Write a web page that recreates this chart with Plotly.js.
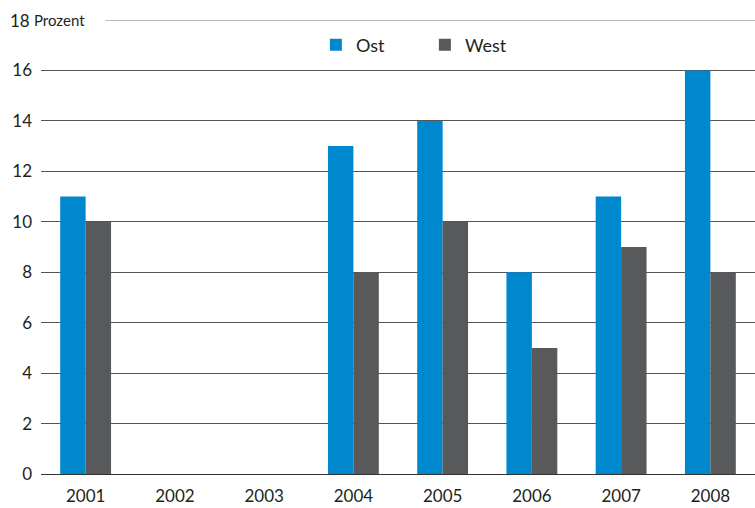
<!DOCTYPE html>
<html>
<head>
<meta charset="utf-8">
<script src="https://cdn.plot.ly/plotly-3.0.1.min.js"></script>
<style>html,body{margin:0;padding:0;background:#fff;}</style>
</head>
<body>
<div id="chart" style="width:755px;height:508px;"></div>
<script>
const years = ["2001", "2002", "2003", "2004", "2005", "2006", "2007", "2008"];
const ost = [11, null, null, 13, 14, 8, 11, 16];
const west = [10, null, null, 8, 10, 5, 9, 8];
const yTicks = [0, 2, 4, 6, 8, 10, 12, 14, 16];
const yTopLabel = "18";
const unitLabel = "Prozent";

const txt = "#231f20";
const fontFam = "Lato, 'Open Sans', sans-serif";

const data = [
  {type: "bar", name: "Ost", x: years, y: ost, marker: {color: "#0088cf", line: {width: 0}}},
  {type: "bar", name: "West", x: years, y: west, marker: {color: "#58595b", line: {width: 0}}}
];

const layout = {
  width: 755, height: 508,
  margin: {l: 41, r: 0, t: 20, b: 34},
  paper_bgcolor: "#fff", plot_bgcolor: "#fff",
  font: {family: fontFam, size: 17, color: txt},
  barmode: "group",
  bargap: 0.43, bargroupgap: 0,
  showlegend: true,
  legend: {
    orientation: "h", x: 0.385, y: 0.945, xanchor: "left", yanchor: "middle",
    font: {family: fontFam, size: 18, color: txt},
    entrywidth: 64, entrywidthmode: "pixels",
    bgcolor: "rgba(0,0,0,0)", itemclick: false
  },
  xaxis: {
    type: "category", showgrid: false, zeroline: false, showline: false,
    ticks: "", ticklabelstandoff: 10, tickfont: {family: fontFam, size: 17, color: txt}
  },
  yaxis: {
    range: [0, 18], tickvals: yTicks, ticktext: yTicks.map(String),
    showgrid: true, gridcolor: "#555", gridwidth: 1,
    zeroline: true, zerolinecolor: "#333", zerolinewidth: 1,
    showline: false, ticks: "", ticklabelstandoff: 8,
    tickfont: {family: fontFam, size: 17, color: txt}, fixedrange: true
  },
  shapes: [
    {type: "line", xref: "paper", yref: "y", x0: 0.09, x1: 1, y0: 18, y1: 18,
     line: {color: "#777", width: 1}, layer: "below"}
  ],
  annotations: [
    {xref: "paper", yref: "y", x: 0, y: 18, xshift: -9, xanchor: "right", yanchor: "middle",
     text: yTopLabel, showarrow: false, font: {family: fontFam, size: 17, color: txt}},
    {xref: "paper", yref: "y", x: 0, y: 18, xshift: -9, xanchor: "left", yanchor: "middle",
     text: unitLabel, showarrow: false, font: {family: fontFam, size: 15, color: txt}}
  ]
};

Plotly.newPlot("chart", data, layout, {displayModeBar: false, staticPlot: true});
</script>
</body>
</html>
